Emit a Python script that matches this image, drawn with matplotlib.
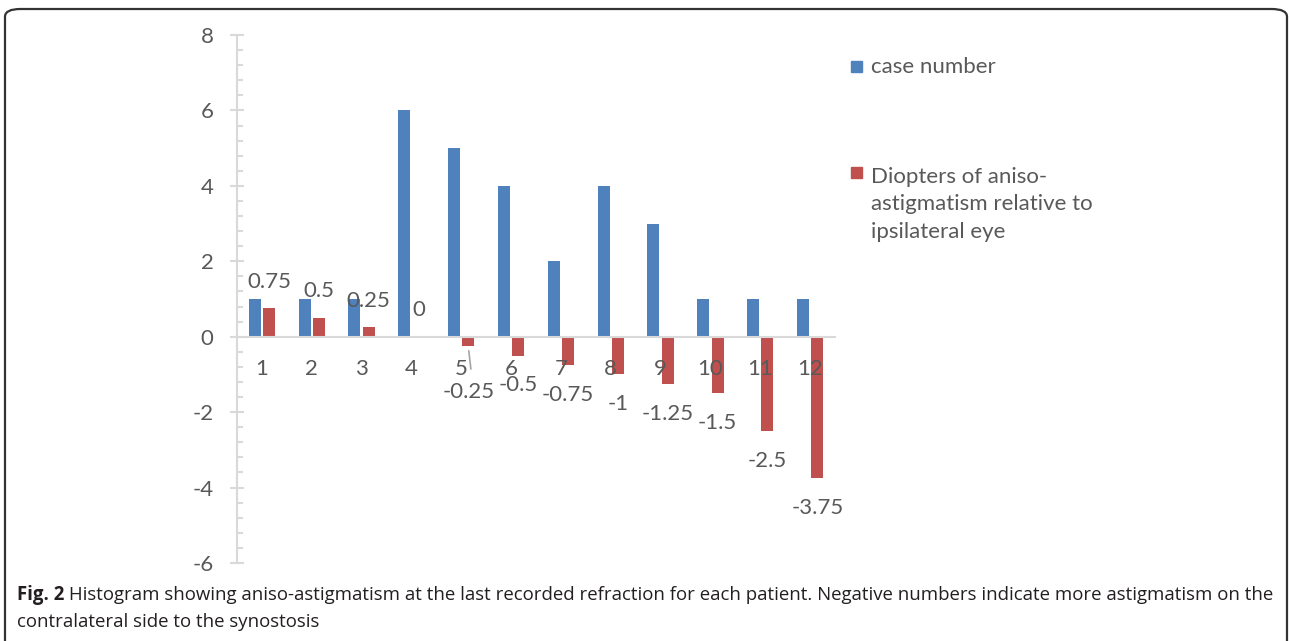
import numpy as np
import matplotlib.pyplot as plt
from matplotlib.patches import FancyBboxPatch, Rectangle
from matplotlib.ticker import MultipleLocator

cases = [1, 2, 3, 4, 5, 6, 7, 8, 9, 10, 11, 12]
case_number = [1, 1, 1, 6, 5, 4, 2, 4, 3, 1, 1, 1]
diopters = [0.75, 0.5, 0.25, 0, -0.25, -0.5, -0.75, -1, -1.25, -1.5, -2.5, -3.75]
value_labels = ["0.75", "0.5", "0.25", "0", "-0.25", "-0.5", "-0.75", "-1",
                "-1.25", "-1.5", "-2.5", "-3.75"]
series_names = ["case number",
                "Diopters of aniso-\nastigmatism relative to\nipsilateral eye"]
caption_bold = "Fig. 2"
caption_rest = (" Histogram showing aniso-astigmatism at the last recorded refraction for "
                "each patient. Negative numbers indicate more astigmatism on the")
caption_line2 = "contralateral side to the synostosis"

BLUE = "#4F81BD"
RED = "#C0504D"
AXIS_GREY = "#D9D9D9"
TEXT_GREY = "#595959"

plt.rcParams["font.family"] = ["Lato", "DejaVu Sans"]
plt.rcParams["axes.unicode_minus"] = False

W, H = 1290, 641
fig = plt.figure(figsize=(W / 100, H / 100), dpi=100)

# axes placed in pixel terms: x 237..835, y 35 (8) .. 563 (-6)
ax = fig.add_axes([237 / W, (H - 563) / H, 598 / W, 528 / H])

x = np.array(cases)
bw = 0.24
ax.bar(x - 0.145, case_number, width=bw, color=BLUE, zorder=1)
ax.bar(x + 0.145, diopters, width=bw, color=RED, zorder=1)

ax.set_xlim(0.5, 12.5)
ax.set_ylim(-6, 8)

for s in ["top", "right"]:
    ax.spines[s].set_visible(False)
ax.spines["left"].set_color(AXIS_GREY)
ax.spines["left"].set_linewidth(1.5)
ax.spines["bottom"].set_position(("data", 0))
ax.spines["bottom"].set_color(AXIS_GREY)
ax.spines["bottom"].set_linewidth(1.5)

ax.yaxis.set_major_locator(MultipleLocator(2))
ax.yaxis.set_minor_locator(MultipleLocator(0.4))
ax.tick_params(axis="y", which="major", direction="inout", length=10, width=1.5,
               color=AXIS_GREY, labelcolor=TEXT_GREY, labelsize=16, pad=12)
ax.tick_params(axis="y", which="minor", direction="in", length=4, width=1.5,
               color=AXIS_GREY)

ax.set_xticks(x)
ax.set_xticklabels([str(c) for c in cases])
ax.tick_params(axis="x", length=0, labelcolor=TEXT_GREY, labelsize=16, pad=16)

# data labels for red series (outside end), one was dragged down with a leader line
for xi, v, lab in zip(x, diopters, value_labels):
    if lab == "-0.25":
        ax.annotate(lab, (xi + 0.145, v), xytext=(0, -33), textcoords="offset points",
                    ha="center", va="center", fontsize=16, color=TEXT_GREY)
        ax.annotate("", (xi + 0.145, v - 0.05), xytext=(xi + 0.2, v - 0.68),
                    arrowprops=dict(arrowstyle="-", color="#A6A6A6", lw=1.2))
        continue
    dy = 19 if v >= 0 else -21.5
    ax.annotate(lab, (xi + 0.145, v), xytext=(0, dy), textcoords="offset points",
                ha="center", va="center", fontsize=16, color=TEXT_GREY)

# legend drawn manually to match the spread-out layout
fig.patches.append(Rectangle((851 / W, 1 - 72 / H), 11 / W, 11 / H,
                             transform=fig.transFigure, color=BLUE))
fig.text(871 / W, 1 - 73 / H, series_names[0], fontsize=16, color=TEXT_GREY,
         va="baseline", ha="left")
fig.patches.append(Rectangle((851 / W, 1 - 178 / H), 11 / W, 11 / H,
                             transform=fig.transFigure, color=RED))
for i, line in enumerate(series_names[1].split("\n")):
    fig.text(871 / W, 1 - (183 + 27.5 * i) / H, line, fontsize=16, color=TEXT_GREY,
             va="baseline", ha="left")

# caption
cap_font = ["Open Sans", "DejaVu Sans"]
t = fig.text(17 / W, 1 - 600 / H, caption_bold, fontsize=13.4, fontweight="bold",
             color="#231F20", va="baseline", ha="left", family=cap_font)
fig.canvas.draw()
bb = t.get_window_extent()
fig.text(bb.x1 / W, 1 - 600 / H, caption_rest, fontsize=13.4, color="#231F20",
         va="baseline", ha="left", family=cap_font)
fig.text(17 / W, 1 - 627 / H, caption_line2, fontsize=13.4, color="#231F20",
         va="baseline", ha="left", family=cap_font)

# rounded frame running off the bottom edge
frame = FancyBboxPatch((5 / W, -20 / H), 1282 / W, (H - 9 + 20) / H,
                       boxstyle="round,pad=0,rounding_size=0.012",
                       transform=fig.transFigure, fill=False, edgecolor="#333333",
                       linewidth=1.6, clip_on=False)
fig.patches.append(frame)

fig.savefig("out.png", dpi=100)
